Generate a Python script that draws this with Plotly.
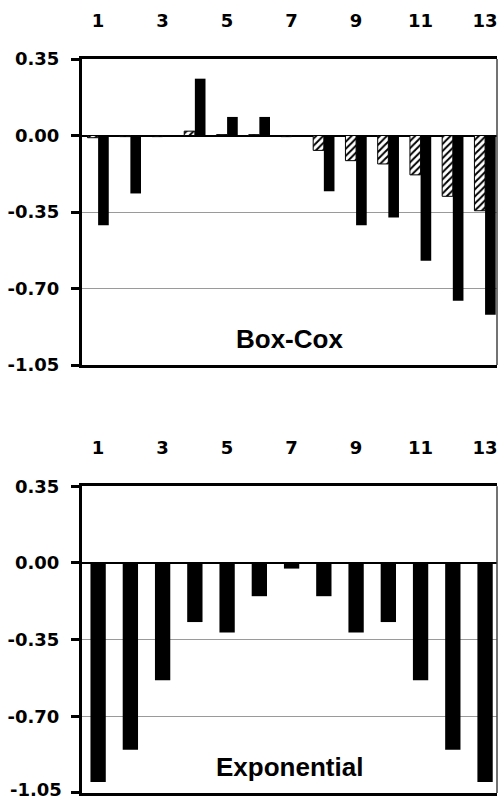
import plotly.graph_objects as go

categories = list(range(1, 14))
tick_vals = [1, 3, 5, 7, 9, 11, 13]
tick_text = ["1", "3", "5", "7", "9", "11", "13"]
y_ticks = [0.35, 0.0, -0.35, -0.70, -1.05]
y_tick_text = ["0.35", "0.00", "-0.35", "-0.70", "-1.05"]

boxcox_hatched = [-0.01, -0.005, -0.005, 0.02, 0.004, 0.004, -0.005,
                  -0.068, -0.115, -0.13, -0.18, -0.278, -0.344]
boxcox_black = [-0.41, -0.265, -0.005, 0.26, 0.085, 0.085, -0.005,
                -0.255, -0.41, -0.375, -0.573, -0.756, -0.82]
exponential = [-1.0, -0.853, -0.536, -0.27, -0.318, -0.152, -0.026,
               -0.152, -0.318, -0.27, -0.536, -0.853, -1.0]

fig = go.Figure()
fig.add_trace(go.Bar(
    x=categories, y=boxcox_hatched, xaxis="x", yaxis="y",
    width=0.33, offset=-0.33,
    marker=dict(color="white", line=dict(color="black", width=1),
                pattern=dict(shape="/", fgcolor="black", bgcolor="white",
                             size=5, solidity=0.4)),
    showlegend=False))
fig.add_trace(go.Bar(
    x=categories, y=boxcox_black, xaxis="x", yaxis="y",
    width=0.33, offset=0.0,
    marker=dict(color="black", line=dict(width=0)),
    showlegend=False))
fig.add_trace(go.Bar(
    x=categories, y=exponential, xaxis="x2", yaxis="y2",
    width=0.475,
    marker=dict(color="black", line=dict(width=0)),
    showlegend=False))

tickfont = dict(family="DejaVu Sans", size=18, color="black", weight="bold")

xcommon = dict(type="linear", range=[0.5, 13.37], side="top",
               showline=True, linewidth=3, linecolor="black", mirror=True,
               ticks="", tickvals=tick_vals, ticktext=tick_text,
               showgrid=False, zeroline=False, tickfont=tickfont,
               ticklabelstandoff=22, automargin=False)
ycommon = dict(range=[-1.05, 0.35], showline=True, linewidth=3,
               linecolor="black", mirror=False, ticks="outside",
               ticklen=8, tickwidth=3, tickcolor="black",
               tickvals=y_ticks, tickfont=tickfont,
               showgrid=True, gridcolor="#9a9a9a", gridwidth=1,
               zeroline=True, zerolinecolor="black", zerolinewidth=2,
               ticklabelstandoff=8, automargin=False)

# bottom panel: the lowest label sits at the page edge, so it is drawn as an
# annotation (plotly drops tick labels that overflow the page)
bottom_tick_text = y_tick_text[:-1] + [""]

label_font = dict(family="Liberation Sans", size=26, color="black",
                  weight="bold")

fig.update_layout(
    width=498, height=801,
    margin=dict(l=82, r=1, t=59, b=8),
    paper_bgcolor="white", plot_bgcolor="white",
    template="none",
    xaxis=dict(domain=[0, 1], anchor="y", **xcommon),
    yaxis=dict(domain=[0.583, 1.0], anchor="x", ticktext=y_tick_text,
               **ycommon),
    xaxis2=dict(domain=[0, 1], anchor="y2", **xcommon),
    yaxis2=dict(domain=[0.0, 0.418], anchor="x2", ticktext=bottom_tick_text,
                **ycommon),
    annotations=[
        dict(text="Box-Cox", x=0.5, y=-0.93, xref="x domain", yref="y",
             showarrow=False, xanchor="center", yanchor="middle",
             font=label_font),
        dict(text="Exponential", x=0.5, y=-0.93, xref="x2 domain", yref="y2",
             showarrow=False, xanchor="center", yanchor="middle",
             font=label_font),
        dict(text=y_tick_text[-1], x=0, y=y_ticks[-1], xref="x2 domain",
             yref="y2", showarrow=False, xanchor="right", yanchor="middle",
             xshift=-18, yshift=3, font=tickfont),
    ],
    shapes=[
        dict(type="line", xref="x domain", yref="y domain", x0=1, x1=1,
             y0=0, y1=1, line=dict(color="#444", width=1.5)),
        dict(type="line", xref="x2 domain", yref="y2 domain", x0=1, x1=1,
             y0=0, y1=1, line=dict(color="#444", width=1.5)),
    ],
)

fig.write_html("out.html")
